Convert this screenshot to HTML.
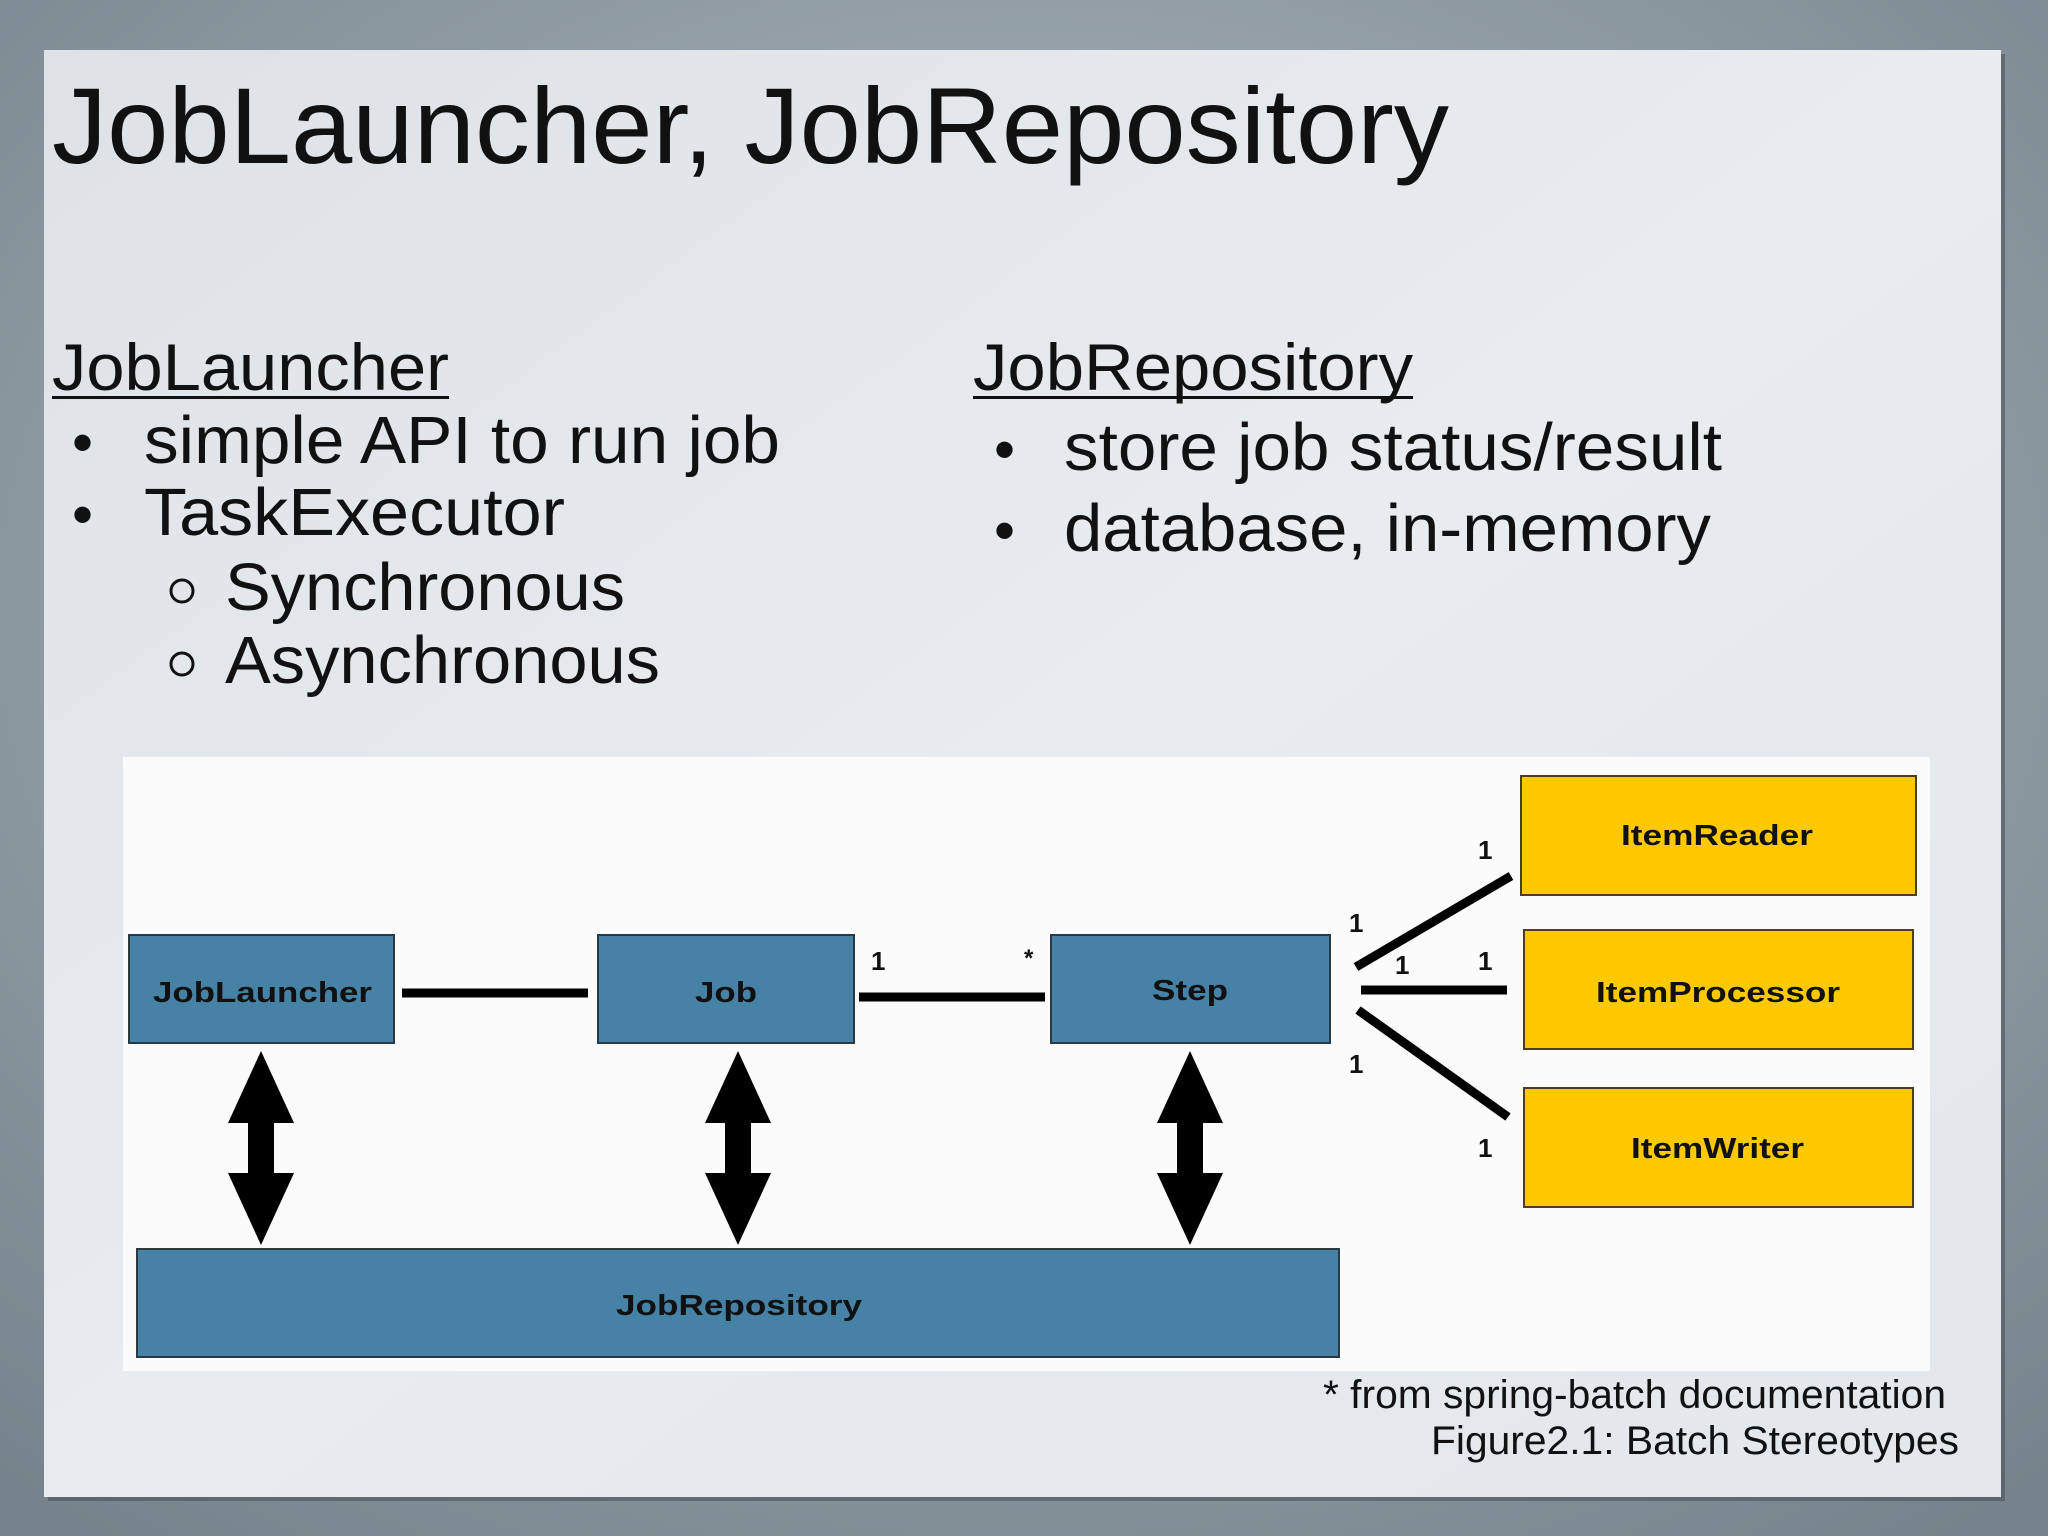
<!DOCTYPE html>
<html><head><meta charset="utf-8"><style>
html,body{margin:0;padding:0;width:2048px;height:1536px;overflow:hidden;background:#8a969e;}
svg{display:block}
text{font-family:"Liberation Sans",Arial,sans-serif;}
</style></head><body>
<svg width="2048" height="1536" viewBox="0 0 2048 1536" xmlns="http://www.w3.org/2000/svg">
<defs>
<radialGradient id="bg" cx="50%" cy="40%" r="75%">
<stop offset="0" stop-color="#b4bec5"/><stop offset="1" stop-color="#76838c"/>
</radialGradient>
<linearGradient id="slide" x1="0" y1="0" x2="1" y2="1">
<stop offset="0" stop-color="#dde2e6"/><stop offset="0.5" stop-color="#e8ecef"/><stop offset="1" stop-color="#e2e7eb"/>
</linearGradient>
</defs>
<rect width="2048" height="1536" fill="url(#bg)"/>
<rect x="48" y="54" width="1957" height="1447" fill="#4a545b" opacity="0.6"/>
<rect x="44" y="50" width="1957" height="1447" fill="url(#slide)"/>

<text x="52" y="163" font-size="108" fill="#111" textLength="1397" lengthAdjust="spacingAndGlyphs">JobLauncher, JobRepository</text>

<text x="52" y="390" font-size="66" fill="#111" textLength="397" lengthAdjust="spacingAndGlyphs">JobLauncher</text>
<rect x="52" y="396" width="397" height="3" fill="#111"/>
<text x="72" y="463" font-size="60" fill="#111">•</text>
<text x="144" y="463" font-size="67" fill="#111" textLength="636" lengthAdjust="spacingAndGlyphs">simple API to run job</text>
<text x="72" y="535" font-size="60" fill="#111">•</text>
<text x="144" y="535" font-size="67" fill="#111" textLength="421" lengthAdjust="spacingAndGlyphs">TaskExecutor</text>
<circle cx="182" cy="591" r="11" fill="none" stroke="#111" stroke-width="3"/>
<text x="225" y="610" font-size="67" fill="#111" textLength="400" lengthAdjust="spacingAndGlyphs">Synchronous</text>
<circle cx="182" cy="664" r="11" fill="none" stroke="#111" stroke-width="3"/>
<text x="225" y="683" font-size="67" fill="#111" textLength="435" lengthAdjust="spacingAndGlyphs">Asynchronous</text>

<text x="973" y="390" font-size="66" fill="#111" textLength="440" lengthAdjust="spacingAndGlyphs">JobRepository</text>
<rect x="973" y="396" width="440" height="3" fill="#111"/>
<text x="994" y="470" font-size="60" fill="#111">•</text>
<text x="1064" y="470" font-size="67" fill="#111" textLength="658" lengthAdjust="spacingAndGlyphs">store job status/result</text>
<text x="994" y="551" font-size="60" fill="#111">•</text>
<text x="1064" y="551" font-size="67" fill="#111" textLength="647" lengthAdjust="spacingAndGlyphs">database, in-memory</text>

<rect x="123" y="757" width="1807" height="614" fill="#fbfbfb"/>

<g stroke="#2a3a44" stroke-width="2" fill="#4682a6">
<rect x="129" y="935" width="265" height="108"/>
<rect x="598" y="935" width="256" height="108"/>
<rect x="1051" y="935" width="279" height="108"/>
<rect x="137" y="1249" width="1202" height="108"/>
</g>
<g stroke="#4a4020" stroke-width="2" fill="#fcc900">
<rect x="1521" y="776" width="395" height="119"/>
<rect x="1524" y="930" width="389" height="119"/>
<rect x="1524" y="1088" width="389" height="119"/>
</g>
<g font-weight="bold" font-size="29" fill="#111">
<text x="153" y="1002" textLength="219" lengthAdjust="spacingAndGlyphs">JobLauncher</text>
<text x="695" y="1002" textLength="62" lengthAdjust="spacingAndGlyphs">Job</text>
<text x="1152" y="1000" textLength="76" lengthAdjust="spacingAndGlyphs">Step</text>
<text x="616" y="1315" textLength="246" lengthAdjust="spacingAndGlyphs">JobRepository</text>
<text x="1621" y="845" textLength="192" lengthAdjust="spacingAndGlyphs">ItemReader</text>
<text x="1596" y="1002" textLength="244" lengthAdjust="spacingAndGlyphs">ItemProcessor</text>
<text x="1631" y="1158" textLength="173" lengthAdjust="spacingAndGlyphs">ItemWriter</text>
</g>
<g stroke="#000" stroke-width="9">
<line x1="402" y1="993" x2="588" y2="993"/>
<line x1="859" y1="997" x2="1045" y2="997"/>
<line x1="1361" y1="990" x2="1507" y2="990"/>
<line x1="1356" y1="967" x2="1511" y2="876"/>
<line x1="1358" y1="1010" x2="1508" y2="1117"/>
</g>
<g font-weight="bold" font-size="26" fill="#111">
<text x="871" y="970">1</text>
<text x="1024" y="966" font-size="24">*</text>
<text x="1478" y="859">1</text>
<text x="1349" y="932">1</text>
<text x="1395" y="974">1</text>
<text x="1478" y="970">1</text>
<text x="1349" y="1073">1</text>
<text x="1478" y="1157">1</text>
</g>
<g fill="#000">
<path id="arr" d="M261 1051 L294 1123 L274 1123 L274 1173 L294 1173 L261 1245 L228 1173 L248 1173 L248 1123 L228 1123 Z"/>
<path d="M738 1051 L771 1123 L751 1123 L751 1173 L771 1173 L738 1245 L705 1173 L725 1173 L725 1123 L705 1123 Z"/>
<path d="M1190 1051 L1223 1123 L1203 1123 L1203 1173 L1223 1173 L1190 1245 L1157 1173 L1177 1173 L1177 1123 L1157 1123 Z"/>
</g>
<text x="1946" y="1408" font-size="40" fill="#111" text-anchor="end" textLength="623" lengthAdjust="spacingAndGlyphs">* from spring-batch documentation</text>
<text x="1959" y="1454" font-size="40" fill="#111" text-anchor="end" textLength="528" lengthAdjust="spacingAndGlyphs">Figure2.1: Batch Stereotypes</text>
</svg>
</body></html>
